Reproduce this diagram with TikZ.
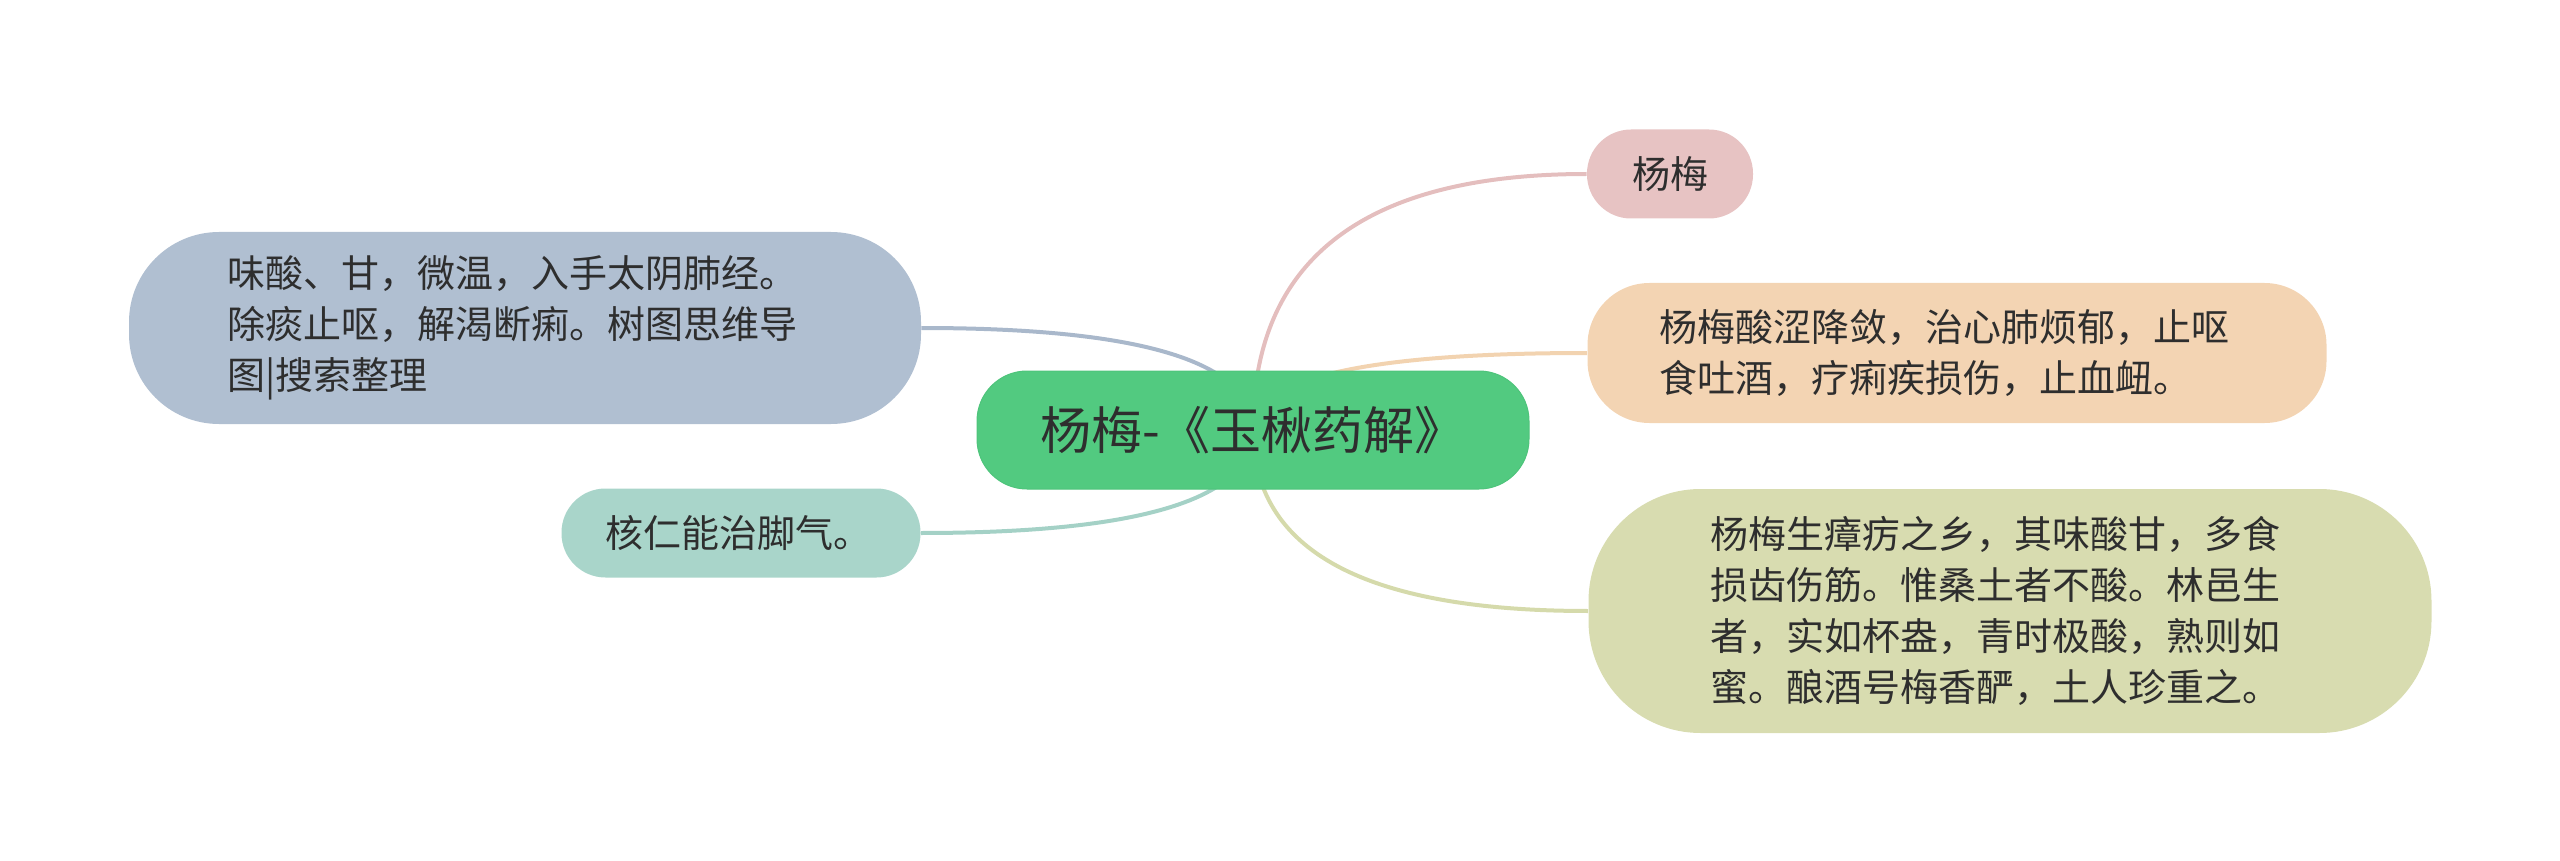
\documentclass[tikz,border=0pt]{standalone}
\usepackage{fontspec}
\setmainfont{Noto Sans CJK SC}
\usetikzlibrary{calc,backgrounds}
\definecolor{txt}{HTML}{2E2E2E}
\definecolor{rootfill}{HTML}{52CA80}
\definecolor{rootdraw}{HTML}{4EC47B}
\definecolor{pinkfill}{HTML}{E7C3C3}
\definecolor{pinkline}{HTML}{E4BEBE}
\definecolor{orangefill}{HTML}{F3D4B3}
\definecolor{orangeline}{HTML}{F2D3B0}
\definecolor{olivefill}{HTML}{D8DCB0}
\definecolor{oliveline}{HTML}{D5DAAB}
\definecolor{bluefill}{HTML}{B0BFD1}
\definecolor{blueline}{HTML}{A9B8CB}
\definecolor{tealfill}{HTML}{A9D5CA}
\definecolor{tealline}{HTML}{A4D1C6}

\begin{document}
\begin{tikzpicture}[x=0.5pt,y=-0.5pt,
  leaf/.style={rounded corners=#1,inner ysep=0pt,text=txt,align=left,
    font=\fontsize{19pt}{25.5pt}\selectfont},
  branch/.style={line width=2pt}]
\useasboundingbox (0,0) rectangle (2560,861);
% centre
\node[rounded corners=25pt,fill=rootfill,draw=rootdraw,line width=0.5pt,text=txt,
  minimum width=276pt,minimum height=59pt,inner sep=0pt,
  font=\fontsize{25.5pt}{30pt}\selectfont] (root) at (1253,430) {杨梅-《玉楸药解》};
% right side
\node[leaf=22pt,fill=pinkfill,align=center,minimum width=83pt,minimum height=44.5pt] (yangmei) at (1670,174) {杨梅};
\node[leaf=31pt,fill=orangefill,text width=297.5pt,inner xsep=36pt,minimum height=70pt] (suanse) at (1957,353)
  {杨梅酸涩降敛，治心肺烦郁，止呕\\食吐酒，疗痢疾损伤，止血衄。};
\node[leaf=56pt,fill=olivefill,text width=299.5pt,inner xsep=61pt,minimum height=122pt] (zhangli) at (2010,611)
  {杨梅生瘴疠之乡，其味酸甘，多食\\损齿伤筋。惟桑土者不酸。林邑生\\者，实如杯盎，青时极酸，熟则如\\蜜。酿酒号梅香酽，土人珍重之。};
% left side
\node[leaf=45pt,fill=bluefill,text width=298pt,inner xsep=49pt,minimum height=96pt] (weisuan) at (525,328)
  {味酸、甘，微温，入手太阴肺经。\\除痰止呕，解渴断痢。树图思维导\\图|搜索整理};
\node[leaf=22pt,fill=tealfill,text width=135.5pt,inner xsep=22pt,minimum height=44.5pt] (heren) at (741,533)
  {核仁能治脚气。};
\begin{scope}[on background layer]
\foreach \n/\a/\c in {yangmei/west/pinkline,suanse/west/orangeline,zhangli/west/oliveline,
    weisuan/east/blueline,heren/east/tealline}
  \draw[branch,\c] (root.center) .. controls ($(root.center)!0.667!(root.center |- \n.\a)$)
    and ($(\n.\a)!0.667!(root.center |- \n.\a)$) .. (\n.\a);
\end{scope}
\end{tikzpicture}
\end{document}
